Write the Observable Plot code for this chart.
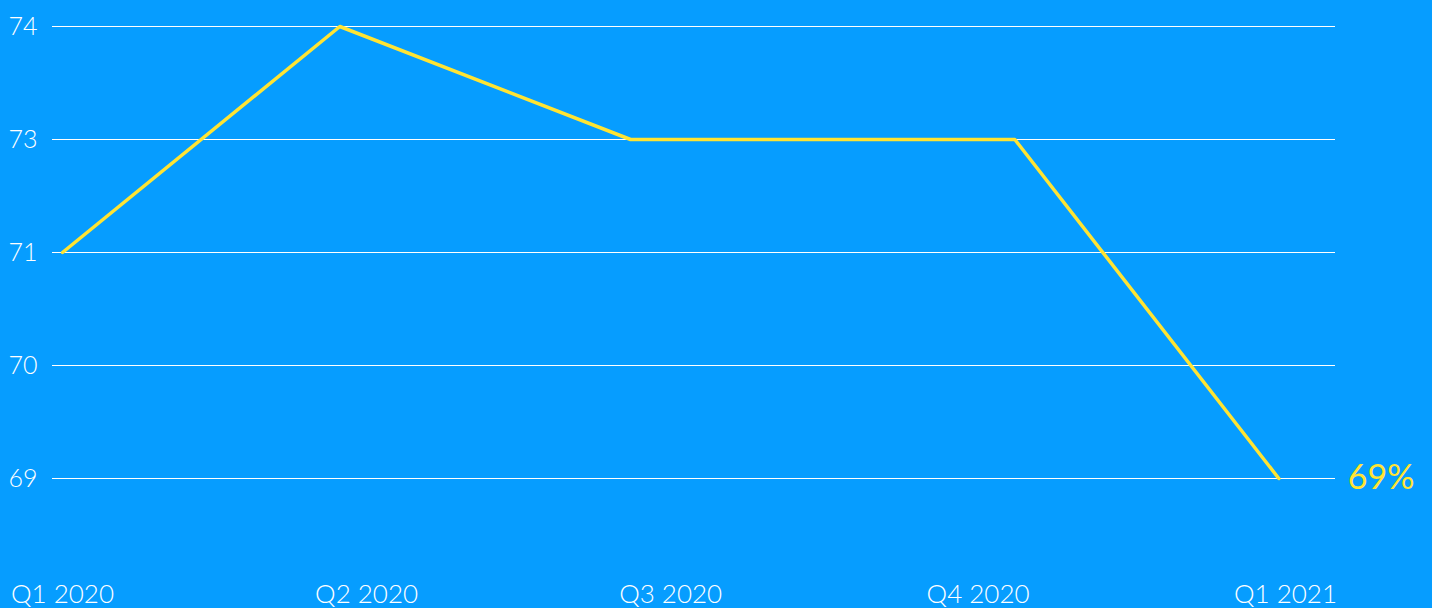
<!DOCTYPE html>
<html><head><meta charset="utf-8">
<script src="https://cdn.jsdelivr.net/npm/d3@7"></script>
<script src="https://cdn.jsdelivr.net/npm/@observablehq/plot@0.6"></script>
<style>html,body{margin:0;padding:0;background:#069DFF;overflow:hidden}</style>
</head><body><div id="chart"></div>
<script>
const quarters = ["Q1 2020", "Q2 2020", "Q3 2020", "Q4 2020", "Q1 2021"];
const quarterStarts = ["2020-01-01", "2020-04-01", "2020-07-01", "2020-10-01", "2021-01-01"];
const surveyDates = ["2020-01-01", "2020-03-24", "2020-06-19", "2020-10-12", "2020-12-30"];
const values = [71, 74, 73, 73, 69];
const yTicks = [74, 73, 71, 70, 69];

const data = surveyDates.map((d, i) => ({date: new Date(d), value: values[i]}));
const tickDates = quarterStarts.map(d => new Date(d));
const last = data[data.length - 1];

const chart = Plot.plot({
  width: 1432,
  height: 608,
  marginLeft: 52,
  marginRight: 97,
  marginTop: 26,
  marginBottom: 130,
  style: {background: "#069DFF", color: "white", fontFamily: "Lato, 'Open Sans', sans-serif", fontSize: "24px", fontWeight: 300},
  x: {type: "utc", domain: [tickDates[0], tickDates[tickDates.length - 1]], range: [62, 1285]},
  y: {type: "point", domain: yTicks, padding: 0},
  marks: [
    Plot.gridY({stroke: "white", strokeOpacity: 1, strokeWidth: 1}),
    Plot.axisY({tickSize: 0, tickPadding: 15, label: null, fill: "white", fontSize: 25}),
    Plot.axisX({ticks: tickDates, tickSize: 0, tickPadding: 106, label: null, fill: "white", fontSize: 26,
      tickFormat: d => quarters[tickDates.findIndex(t => +t === +d)]}),
    Plot.line(data, {x: "date", y: "value", stroke: "#FFE433", strokeWidth: 3.5}),
    Plot.text([last], {x: "date", y: "value", text: d => d.value + "%", dx: 69, textAnchor: "start", fill: "#FFE433", fontSize: 34, fontWeight: 400})
  ]
});
document.getElementById("chart").appendChild(chart);
</script>
</body></html>
